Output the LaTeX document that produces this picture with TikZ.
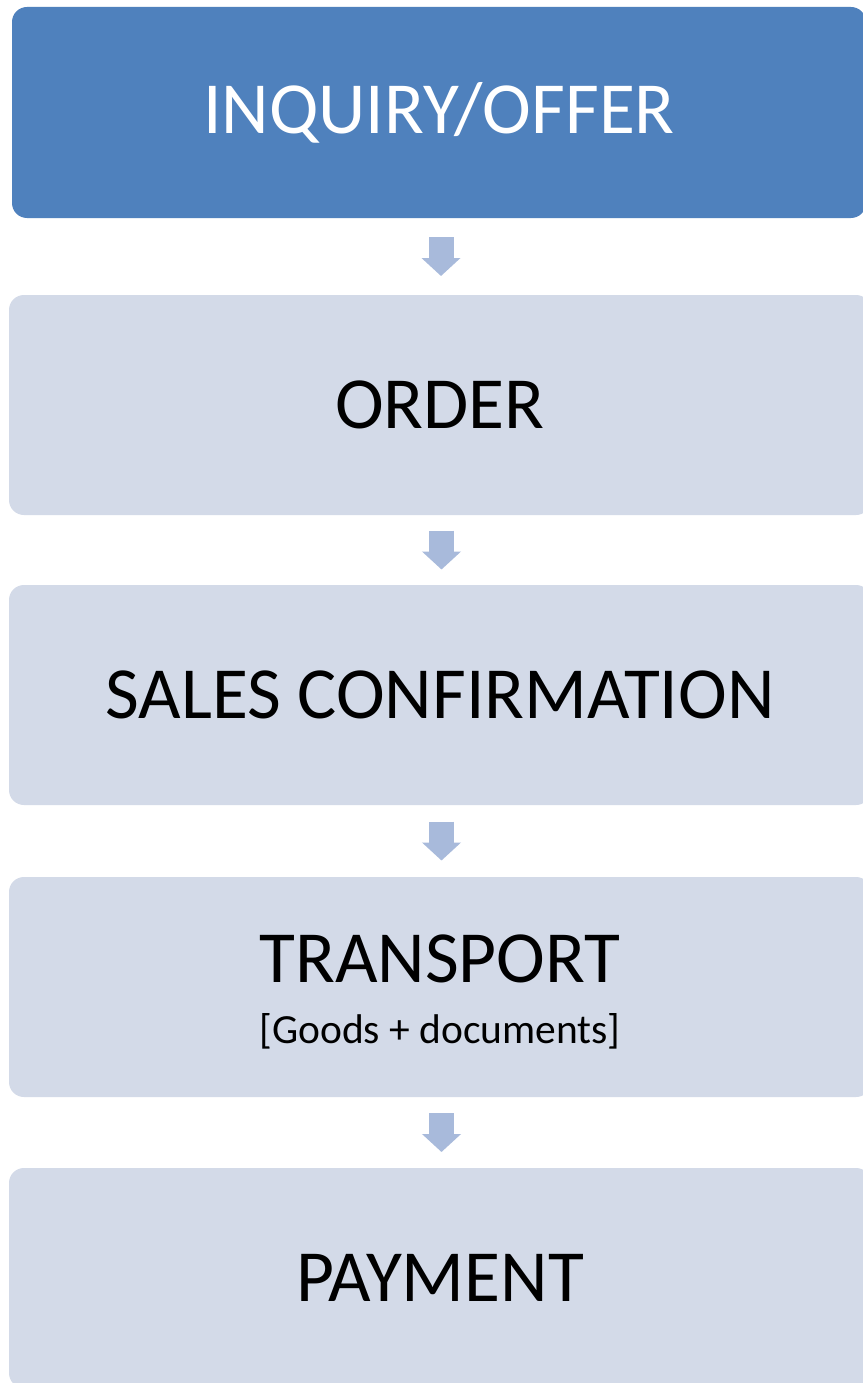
\documentclass[tikz,border=0pt]{standalone}
\usepackage{fontspec}
\setmainfont{Carlito}
\usetikzlibrary{calc, arrows.meta}
\definecolor{offerblue}{HTML}{4F81BD}
\definecolor{stagefill}{HTML}{D3DAE8}
\definecolor{arrowblue}{HTML}{A8BADB}
\tikzset{
  stagebox/.style={rectangle, rounded corners=15pt, fill=stagefill, minimum width=862pt, minimum height=220pt, inner sep=0pt, align=center, font=\fontsize{73.5}{80}\selectfont},
  downarrow/.style={draw=arrowblue, line width=25pt, -{Triangle[length=18pt, width=38pt]}}
}

\begin{document}
\begin{tikzpicture}[x=1pt, y=-1pt]
    \path[use as bounding box, fill=white] (0,0) rectangle (862,1383);

    \node[stagebox, fill=offerblue, text=white, minimum width=854pt, minimum height=211pt] at (439, 112.5) (inquiry) {INQUIRY/OFFER};
    \node[stagebox] at (440, 405) (order) {ORDER};
    \node[stagebox] at (440, 695) (confirmation) {SALES CONFIRMATION};
    \node[stagebox] at (440, 987) (transport) {\rule{0pt}{58pt}TRANSPORT\\[-19pt]{\fontsize{41.5}{48}\selectfont [Goods + documents]}};
    \node[stagebox] at (440, 1278) (payment) {PAYMENT};

    % block arrows between the stages
    \foreach \from/\to in {inquiry/order, order/confirmation, confirmation/transport, transport/payment}
        \draw[downarrow] ($(\from.south)!0.5!(\to.north) + (1.5,-19.5)$) -- ($(\from.south)!0.5!(\to.north) + (1.5,19.5)$);
\end{tikzpicture}
\end{document}
